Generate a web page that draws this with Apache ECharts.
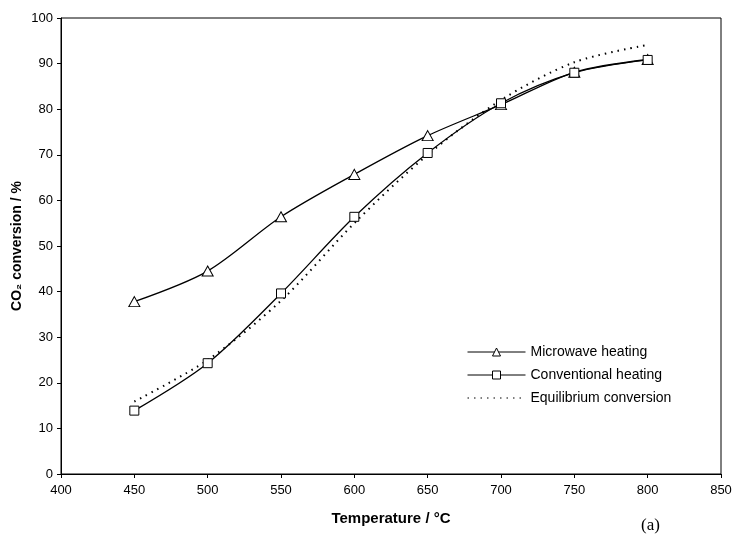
<!DOCTYPE html>
<html>
<head>
<meta charset="utf-8">
<script src="https://cdn.jsdelivr.net/npm/echarts@6/dist/echarts.min.js"></script>
<style>html,body{margin:0;padding:0;background:#fff}#c{width:736px;height:544px}</style>
</head>
<body>
<div id="c"></div>
<script>
const temperatures = [450, 500, 550, 600, 650, 700, 750, 800];
const microwave = [37.8, 44.5, 56.4, 65.7, 74.2, 81.0, 88.1, 90.9];
const conventional = [13.9, 24.3, 39.6, 56.4, 70.4, 81.3, 88.0, 90.8];
const equilibrium = [15.9, 25.0, 38.0, 55.0, 70.0, 82.0, 90.3, 94.1];
const xTicks = [400, 450, 500, 550, 600, 650, 700, 750, 800, 850];
const yTicks = [0, 10, 20, 30, 40, 50, 60, 70, 80, 90, 100];

const pair = (xs, ys) => xs.map((x, i) => [x, ys[i]]);
const font = 'Liberation Sans, Arial, sans-serif';
const chart = echarts.init(document.getElementById('c'), null, {renderer: 'canvas'});
chart.setOption({
  animation: false,
  backgroundColor: '#fff',
  grid: {left: 61, right: 15, top: 18, bottom: 70, outerBoundsMode: 'none', containLabel: false,
    show: true, borderColor: '#000', borderWidth: 1, backgroundColor: 'transparent'},
  xAxis: {
    type: 'value', min: xTicks[0], max: xTicks[xTicks.length - 1], interval: 50,
    name: 'Temperature / °C', nameLocation: 'middle', nameGap: 37,
    nameTextStyle: {fontFamily: font, fontWeight: 'bold', fontSize: 15, color: '#000'},
    axisLine: {lineStyle: {color: '#000', width: 1}},
    axisTick: {show: true, length: 4, lineStyle: {color: '#000'}},
    axisLabel: {fontFamily: font, fontSize: 13, color: '#000', margin: 10},
    splitLine: {show: false}
  },
  yAxis: {
    type: 'value', min: yTicks[0], max: yTicks[yTicks.length - 1], interval: 10,
    name: 'CO₂ conversion / %', nameLocation: 'middle', nameGap: 37, nameRotate: 90,
    nameMoveOverlap: false,
    nameTextStyle: {fontFamily: font, fontWeight: 'bold', fontSize: 14, color: '#000'},
    axisLine: {show: true, lineStyle: {color: '#000', width: 1}},
    axisTick: {show: true, length: 4, lineStyle: {color: '#000'}},
    axisLabel: {fontFamily: font, fontSize: 13, color: '#000', margin: 8},
    splitLine: {show: false}
  },
  legend: {
    orient: 'vertical', left: 462, top: 340, itemWidth: 58, itemHeight: 10, itemGap: 9,
    textStyle: {fontFamily: font, fontSize: 14, color: '#000'},
    lineStyle: {width: 1},
    itemStyle: {borderWidth: 1},
    data: [
      {name: 'Microwave heating'},
      {name: 'Conventional heating'},
      {name: 'Equilibrium conversion', itemStyle: {opacity: 0}}
    ]
  },
  graphic: [{
    type: 'text', left: 641, top: 517,
    style: {text: '(a)', font: '17px "Liberation Serif", "Times New Roman", serif', fill: '#000'}
  }],
  series: [
    {
      name: 'Equilibrium conversion', type: 'line', data: pair(temperatures, equilibrium),
      smooth: 0.3, symbol: 'none', z: 1,
      lineStyle: {color: '#000', width: 2, type: [1.5, 5]}, itemStyle: {color: '#000'}
    },
    {
      name: 'Microwave heating', type: 'line', data: pair(temperatures, microwave),
      smooth: 0.3, symbol: 'triangle', symbolSize: [11, 10], showAllSymbol: true, z: 3,
      lineStyle: {color: '#000', width: 1.3},
      itemStyle: {color: '#fff', borderColor: '#000', borderWidth: 1}
    },
    {
      name: 'Conventional heating', type: 'line', data: pair(temperatures, conventional),
      smooth: 0.3, symbol: 'rect', symbolSize: 9, showAllSymbol: true, z: 4,
      lineStyle: {color: '#000', width: 1.3},
      itemStyle: {color: '#fff', borderColor: '#000', borderWidth: 1}
    }
  ]
});
</script>
</body>
</html>
